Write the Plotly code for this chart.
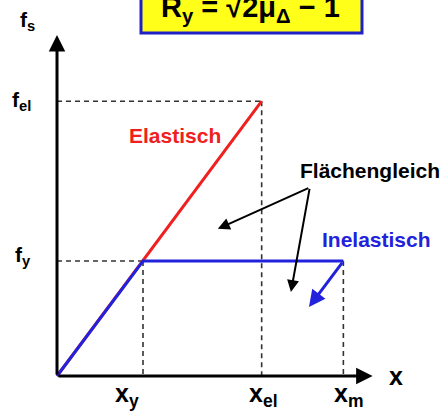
import plotly.graph_objects as go

# Normalised yield point of the inelastic system
x_y = 1.0
f_y = 1.0
# Peak response of the elastic system (x_el, f_el) and ductile peak displacement x_m
x_el = 2.38
f_el = 2.39
x_m = 3.33

# Force-displacement paths
elastic_x = [0.0, x_el]
elastic_f = [0.0, f_el]
inelastic_x = [0.0, x_y, x_m]
inelastic_f = [0.0, f_y, f_y]
# Elastic unloading branch from the peak displacement
unload_x = [x_m, 2.93]
unload_f = [f_y, 0.60]

x_tick_vals = [x_y, x_el, x_m]
x_tick_text = ["x<sub>y</sub>", "x<sub>el</sub>", "x<sub>m</sub>"]
f_tick_vals = [f_y, f_el]
f_tick_text = ["f<sub>y</sub>", "f<sub>el</sub>"]

# Label nudges relative to their tick (axis units)
x_tick_shift = [-0.19, 0.02, 0.06]
f_tick_shift = [0.04, 0.005]

X_RANGE = [-0.663, 4.512]
Y_RANGE = [-0.339, 3.270]
X_TIP = 3.67
Y_TIP = 2.965

RED = "#f02020"
BLUE = "#2222dd"
DASH = "#333333"
FONT = "Liberation Sans, Arial, sans-serif"

fig = go.Figure()

# Dashed guides from the axes to the characteristic points
guides = [
    ([0.0, x_el], [f_el, f_el]),
    ([x_el, x_el], [f_el, 0.0]),
    ([0.0, x_y], [f_y, f_y]),
    ([x_y, x_y], [f_y, 0.0]),
    ([x_m, x_m], [f_y, 0.0]),
]
for gx, gy in guides:
    fig.add_trace(go.Scatter(x=gx, y=gy, mode="lines",
                             line=dict(color=DASH, width=1.6, dash="5px,4px"),
                             hoverinfo="skip", showlegend=False))

fig.add_trace(go.Scatter(x=elastic_x, y=elastic_f, mode="lines",
                         line=dict(color=RED, width=3), showlegend=False))
fig.add_trace(go.Scatter(x=inelastic_x, y=inelastic_f, mode="lines",
                         line=dict(color=BLUE, width=3), showlegend=False))

annotations = []

# Axes drawn as arrows
annotations.append(dict(x=X_TIP, y=0, ax=0, ay=0, xref="x", yref="y", axref="x", ayref="y",
                        showarrow=True, arrowhead=2, arrowsize=1.1, arrowwidth=3,
                        arrowcolor="black", text=""))
annotations.append(dict(x=0, y=Y_TIP, ax=0, ay=0, xref="x", yref="y", axref="x", ayref="y",
                        showarrow=True, arrowhead=2, arrowsize=1.1, arrowwidth=3,
                        arrowcolor="black", text=""))

# Unloading arrow
annotations.append(dict(x=unload_x[1], y=unload_f[1], ax=unload_x[0], ay=unload_f[0],
                        xref="x", yref="y", axref="x", ayref="y",
                        showarrow=True, arrowhead=2, arrowsize=1.1, arrowwidth=3,
                        arrowcolor=BLUE, text=""))

# Axis titles
annotations.append(dict(x=-0.34, y=Y_TIP - 0.01, xref="x", yref="y", text="<b>f<sub>s</sub></b>",
                        showarrow=False, xanchor="center", yanchor="bottom",
                        font=dict(family=FONT, size=21, color="black")))
annotations.append(dict(x=X_TIP + 0.27, y=0.0, xref="x", yref="y", text="<b>x</b>",
                        showarrow=False, xanchor="center", yanchor="middle",
                        font=dict(family=FONT, size=25, color="black")))

# Tick labels
for v, t, s in zip(x_tick_vals, x_tick_text, x_tick_shift):
    annotations.append(dict(x=v + s, y=-0.005, xref="x", yref="y", text="<b>" + t + "</b>",
                            showarrow=False, xanchor="center", yanchor="top",
                            font=dict(family=FONT, size=25, color="black")))
for v, t, s in zip(f_tick_vals, f_tick_text, f_tick_shift):
    annotations.append(dict(x=-0.275, y=v + s, xref="x", yref="y", text="<b>" + t + "</b>",
                            showarrow=False, xanchor="right", yanchor="middle",
                            font=dict(family=FONT, size=21, color="black")))

# Curve labels
annotations.append(dict(x=1.37, y=2.09, xref="x", yref="y", text="<b>Elastisch</b>",
                        showarrow=False, xanchor="center", yanchor="middle",
                        font=dict(family=FONT, size=21, color=RED)))
annotations.append(dict(x=3.72, y=1.19, xref="x", yref="y", text="<b>Inelastisch</b>",
                        showarrow=False, xanchor="center", yanchor="middle",
                        font=dict(family=FONT, size=21, color=BLUE)))
annotations.append(dict(x=3.64, y=1.79, xref="x", yref="y", text="<b>Flächengleich</b>",
                        showarrow=False, xanchor="center", yanchor="middle",
                        font=dict(family=FONT, size=21, color="black")))

# Equal-area pointers
for hx, hy in [(1.87, 1.28), (2.72, 0.73)]:
    annotations.append(dict(x=hx, y=hy, ax=2.94, ay=1.64, xref="x", yref="y",
                            axref="x", ayref="y", showarrow=True, arrowhead=2,
                            arrowsize=1.2, arrowwidth=2, arrowcolor="black", text=""))

# Formula for the reduction factor
annotations.append(dict(x=250 / 445, y=1 - 9 / 415, xref="paper", yref="paper",
                        text="<b>R<sub>y</sub> = √2μ<sub>Δ</sub> − 1</b>",
                        showarrow=False, xanchor="center", yanchor="middle",
                        font=dict(family=FONT, size=29, color="black")))

shapes = [dict(type="rect", xref="paper", yref="paper",
               x0=141 / 445, x1=362 / 445, y0=1 - 33 / 415, y1=1.05,
               fillcolor="#ffff1a", line=dict(color="#2020c8", width=3), layer="below")]

fig.update_layout(
    width=445, height=415,
    margin=dict(l=0, r=0, t=0, b=0),
    paper_bgcolor="white", plot_bgcolor="white",
    xaxis=dict(range=X_RANGE, visible=False, fixedrange=True),
    yaxis=dict(range=Y_RANGE, visible=False, fixedrange=True),
    annotations=annotations,
    shapes=shapes,
    showlegend=False,
)

fig.write_html("out.html")
